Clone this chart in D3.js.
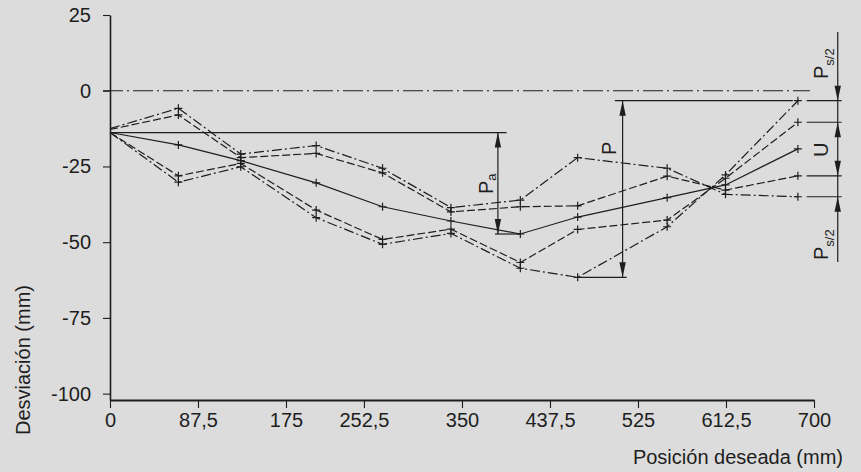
<!DOCTYPE html>
<html><head><meta charset="utf-8">
<script src="https://cdn.jsdelivr.net/npm/d3@7"></script>
<style>
body{margin:0;background:#dcdcdc;}
svg{display:block;font-family:"Liberation Sans",Arial,Helvetica,sans-serif;}
</style>
</head><body>
<svg id="chart" width="861" height="472"></svg>
<script>
// ---- data ----
const positions = [0, 68, 130, 205, 271, 339, 408, 465, 554, 612, 684];
const seriesA = [-12.5, -5.8, -20.9, -18.1, -25.6, -38.6, -36.1, -22.1, -25.6, -34.2, -35.0]; // dash-dot
const seriesB = [-12.8, -8.0, -22.1, -20.7, -27.1, -40.0, -38.3, -38.0, -28.2, -32.8, -28.1]; // dashed
const seriesC = [-13.8, -17.9, -23.1, -30.4, -38.3, -43.0, -47.3, -41.7, -35.3, -31.1, -19.2]; // solid (mean)
const seriesD = [-13.8, -28.1, -24.0, -39.4, -49.1, -45.7, -56.7, -45.8, -42.7, -28.9, -10.4]; // dashed
const seriesE = [-13.8, -30.2, -25.1, -41.9, -50.7, -47.1, -58.6, -61.6, -44.9, -27.8, -3.3];  // dash-dot
const xTicks = [0, 87.5, 175, 252.5, 350, 437.5, 525, 612.5, 700];
const xTickLabels = ["0", "87,5", "175", "252,5", "350", "437,5", "525", "612,5", "700"];
const yTicks = [25, 0, -25, -50, -75, -100];
const yTickLabels = ["25", "0", "-25", "-50", "-75", "-100"];
const xTitle = "Posición deseada (mm)";
const yTitle = "Desviación (mm)";

// ---- setup ----
const ink = "#1e1e1e";
const svg = d3.select("#chart");
svg.append("rect").attr("width", 861).attr("height", 472).attr("fill", "#dcdcdc");

const x = d3.scaleLinear().domain([0, 700]).range([110, 814]);
const y = d3.scaleLinear().domain([-102.1, 25]).range([400, 15]);

// zero reference line
svg.append("line")
  .attr("x1", x(0) - 7).attr("x2", x(696)).attr("y1", y(0)).attr("y2", y(0))
  .attr("stroke", ink).attr("stroke-width", 1.1).attr("stroke-dasharray", "20,4,2,4");

// axes
const yAxis = d3.axisLeft(y).tickValues(yTicks).tickFormat((d, i) => yTickLabels[i])
  .tickSize(7).tickSizeOuter(0).tickPadding(12);
const gy = svg.append("g").attr("transform", `translate(${x(0)},0)`).call(yAxis);
gy.select(".domain").attr("stroke", ink).attr("stroke-width", 1.6);
gy.selectAll(".tick line").attr("stroke", ink).attr("stroke-width", 1.1);
gy.selectAll(".tick text").attr("fill", ink).style("font-size", "20px")
  .style("font-family", "'Liberation Sans', Arial, sans-serif");

const xAxis = d3.axisBottom(x).tickValues(xTicks).tickFormat((d, i) => xTickLabels[i])
  .tickSize(8).tickSizeOuter(0).tickPadding(5);
const gx = svg.append("g").attr("transform", `translate(0,${y.range()[0]})`).call(xAxis);
gx.select(".domain").attr("stroke", ink).attr("stroke-width", 2.2);
gx.selectAll(".tick line").attr("stroke", ink).attr("stroke-width", 1.1);
gx.selectAll(".tick text").attr("fill", ink).style("font-size", "20px")
  .style("font-family", "'Liberation Sans', Arial, sans-serif");

// axis titles
svg.append("text").attr("x", 843).attr("y", 464).attr("text-anchor", "end")
  .attr("fill", ink).style("font-size", "20px").text(xTitle);
svg.append("text").attr("transform", "translate(30,285) rotate(-90)").attr("text-anchor", "end")
  .attr("fill", ink).style("font-size", "20px").text(yTitle);

// series
const series = [
  {vals: seriesA, dash: "10,3,2,3"},
  {vals: seriesB, dash: "8,3"},
  {vals: seriesC, dash: null},
  {vals: seriesD, dash: "8,3"},
  {vals: seriesE, dash: "10,3,2,3"}
];
const line = d3.line().x((d, i) => x(positions[i])).y(d => y(d));
series.forEach(s => {
  svg.append("path").datum(s.vals).attr("d", line).attr("fill", "none")
    .attr("stroke", ink).attr("stroke-width", 1.2)
    .attr("stroke-dasharray", s.dash);
  svg.append("g").selectAll("path").data(s.vals.slice(1)).join("path")
    .attr("d", (d, i) => {
      const px = x(positions[i + 1]), py = y(d);
      return `M${px - 4},${py}H${px + 4}M${px},${py - 4}V${py + 4}`;
    })
    .attr("stroke", ink).attr("stroke-width", 1.2).attr("fill", "none");
});

// ---- annotations ----
function hline(xa, xb, yy) {
  svg.append("line").attr("x1", xa).attr("x2", xb).attr("y1", yy).attr("y2", yy)
    .attr("stroke", ink).attr("stroke-width", 1.2);
}
function vline(xx, ya, yb) {
  svg.append("line").attr("x1", xx).attr("x2", xx).attr("y1", ya).attr("y2", yb)
    .attr("stroke", ink).attr("stroke-width", 1.2);
}
function arrow(xx, tip, dir) { // dir=-1 up, +1 down
  const len = 15, hw = 3.2;
  svg.append("path").attr("d", `M${xx},${tip}L${xx - hw},${tip - dir * len}L${xx + hw},${tip - dir * len}Z`)
    .attr("fill", ink);
}
function label(xx, yy, main, sub, subDy) {
  const t = svg.append("text").attr("transform", `translate(${xx},${yy}) rotate(-90)`)
    .attr("fill", ink).style("font-size", "20px");
  t.append("tspan").text(main);
  if (sub) t.append("tspan").attr("dy", subDy).style("font-size", "13px").text(sub);
}

// Pa
const nStart = seriesC[0];
const cMinIdx = seriesC.indexOf(d3.min(seriesC));
hline(x(0), x(394.4), y(nStart));
const xPa = x(385.7);
vline(xPa, y(nStart), y(seriesC[cMinIdx]));
arrow(xPa, y(nStart), -1);
arrow(xPa, y(seriesC[cMinIdx]), 1);
hline(x(382.8), x(positions[cMinIdx]), y(seriesC[cMinIdx]));
label(493, 194, "P", "a", 3);

// P
const eMinIdx = seriesE.indexOf(d3.min(seriesE));
const eEnd = seriesE[seriesE.length - 1];
const xP = x(509.7);
hline(x(502), x(679), y(eEnd));
hline(x(positions[eMinIdx]), x(513.8), y(seriesE[eMinIdx]));
vline(xP, y(eEnd), y(seriesE[eMinIdx]));
arrow(xP, y(eEnd), -1);
arrow(xP, y(seriesE[eMinIdx]), 1);
label(616, 155, "P", null, 0);

// right-hand dimensions
const ends = [seriesA, seriesB, seriesD, seriesE].map(s => s[s.length - 1]);
ends.forEach(v => hline(x(692.7), x(727.5), y(v)));
const xR = x(723.6);
const aEnd = seriesA[seriesA.length - 1], bEnd = seriesB[seriesB.length - 1], dEnd = seriesD[seriesD.length - 1];
vline(xR, 32, y(eEnd));
arrow(xR, y(eEnd), 1);
vline(xR, y(eEnd), y(dEnd));
vline(xR, y(dEnd), y(bEnd));
arrow(xR, y(dEnd), -1);
arrow(xR, y(bEnd), 1);
vline(xR, y(bEnd), y(aEnd));
vline(xR, y(aEnd), 262);
arrow(xR, y(aEnd), -1);
label(828, 79, "P", "s/2", 6);
label(828, 157, "U", null, 0);
label(828, 260, "P", "s/2", 6);
</script>
</body></html>
